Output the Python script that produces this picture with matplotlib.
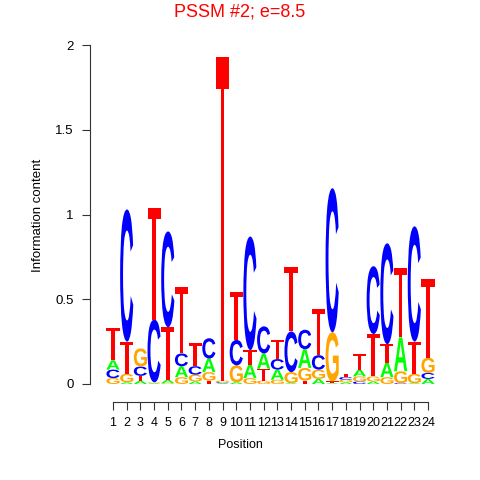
import numpy as np
import matplotlib
matplotlib.use("Agg")
import matplotlib.pyplot as plt
from matplotlib.path import Path
from matplotlib.patches import PathPatch
from matplotlib.textpath import TextPath
from matplotlib.font_manager import FontProperties
from matplotlib.transforms import Affine2D

# information content per letter, positions 1..24
positions = list(range(1, 25))
A = [0.055, 0.01, 0.02, 0.005, 0.02, 0.065, 0.015, 0.08, 0.005, 0.01, 0.08, 0.09,
     0.06, 0.005, 0.11, 0.03, 0.005, 0.01, 0.04, 0.015, 0.085, 0.2, 0.005, 0.03]
C = [0.05, 0.78, 0.055, 0.37, 0.565, 0.075, 0.05, 0.12, 0.005, 0.15, 0.67, 0.16,
     0.062, 0.24, 0.115, 0.085, 0.85, 0.016, 0.015, 0.40, 0.595, 0.005, 0.68, 0.035]
G = [0.035, 0.05, 0.107, 0.005, 0.005, 0.04, 0.04, 0.05, 0.01, 0.10, 0.035, 0.02,
     0.025, 0.065, 0.075, 0.055, 0.29, 0.015, 0.03, 0.03, 0.04, 0.07, 0.055, 0.09]
T = [0.19, 0.19, 0.028, 0.66, 0.31, 0.39, 0.135, 0.02, 1.91, 0.28, 0.085, 0.07,
     0.11, 0.38, 0.02, 0.27, 0.01, 0.018, 0.09, 0.25, 0.11, 0.41, 0.19, 0.465]

colors = {"A": "#00FF00", "C": "#0000FF", "G": "#FFA500", "T": "#FF0000"}
plt.rcParams['font.family'] = ['Liberation Sans', 'DejaVu Sans']
letter_font = FontProperties(family="Liberation Sans", weight="bold")

# T drawn as a polygon: thin bar, fairly wide stem (as in the reference)
T_POLY = np.array([[0, 1], [1, 1], [1, 0.9], [0.64, 0.9], [0.64, 0],
                   [0.36, 0], [0.36, 0.9], [0, 0.9], [0, 1]])


def letter_path(ch):
    if ch == "T":
        return Path(T_POLY)
    tp = TextPath((0, 0), ch, size=1, prop=letter_font)
    ext = tp.get_extents()
    tr = Affine2D().translate(-ext.x0, -ext.y0).scale(1 / ext.width, 1 / ext.height)
    return tr.transform_path(tp)


glyphs = {ch: letter_path(ch) for ch in "ACGT"}


def draw_letter(ax, ch, x0, y0, w, h, color):
    tr = Affine2D().scale(w, h).translate(x0, y0)
    ax.add_patch(PathPatch(tr.transform_path(glyphs[ch]), facecolor=color,
                           edgecolor="none", lw=0))


fig = plt.figure(figsize=(4.8, 4.8), dpi=100)
# pixel layout: y=0 at 384px, y=2 at 45px; axis from 90px to 450px
L, R, Bpx, Tpx = 90, 450, 384, 45
ax = fig.add_axes([L / 480, 1 - Bpx / 480, (R - L) / 480, (Bpx - Tpx) / 480])
step = (428 - 113) / 23
ax.set_xlim(1 + (L - 113) / step, 1 + (R - 113) / step)
ax.set_ylim(0, 2)

width = 0.96
for i, p in enumerate(positions):
    stack = sorted([("A", A[i]), ("C", C[i]), ("G", G[i]), ("T", T[i])],
                   key=lambda t: t[1])
    y = 0.0
    for ch, h in stack:
        if h > 0:
            draw_letter(ax, ch, p - width / 2, y, width, h, colors[ch])
        y += h

for s in ("top", "right"):
    ax.spines[s].set_visible(False)
ax.spines["left"].set_bounds(0, 2)
ax.spines["bottom"].set_bounds(1, 24)
ax.spines["bottom"].set_position(("outward", 18 * 0.72))
for s in ("left", "bottom"):
    ax.spines[s].set_linewidth(0.8)
    ax.spines[s].set_color("#333333")

ax.set_xticks(positions)
ax.set_xticklabels([str(p) for p in positions])
ax.set_yticks([0, 0.5, 1, 1.5, 2])
ax.set_yticklabels(["0", "0.5", "1", "1.5", "2"])
ax.tick_params(axis="both", direction="out", length=5.8, width=0.8,
               color="#333333", labelsize=9.5)
ax.tick_params(axis="x", pad=5, labelsize=9)
ax.tick_params(axis="y", pad=6)

fig.text(240 / 480, 1 - 445 / 480, "Position", ha="center", va="center",
         fontsize=9)
fig.text(38 / 480, 1 - 215 / 480, "Information content", ha="center",
         va="center", rotation=90, fontsize=9.5)
fig.text(240 / 480, 1 - 12 / 480, "PSSM #2; e=8.5", ha="center", va="center",
         fontsize=13, color="#FF0000")

fig.savefig("out.png", dpi=100)
